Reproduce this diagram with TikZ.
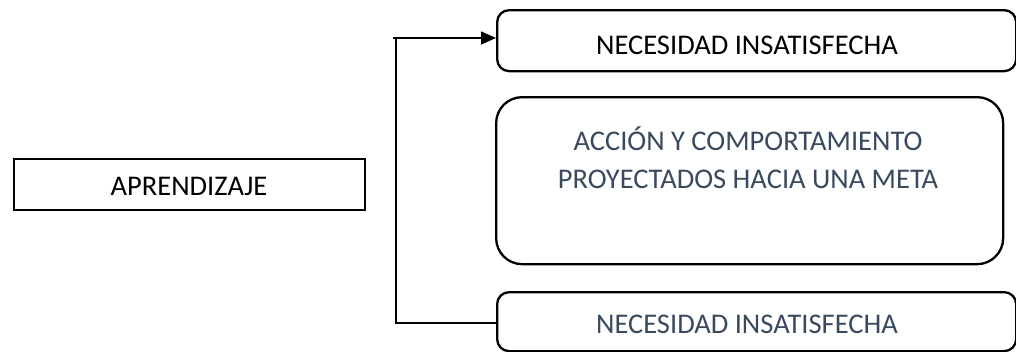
\documentclass[tikz,border=0pt]{standalone}
\usepackage{fontspec}
\setmainfont{Carlito}
\usetikzlibrary{arrows.meta}
\definecolor{slate}{HTML}{3A4A5E}
\begin{document}
\begin{tikzpicture}[x=1pt,y=-1pt,
  rbox/.style={draw, line width=2.3pt, rounded corners=12pt, inner sep=0pt},
  sbox/.style={draw, line width=1.8pt, inner sep=0pt},
  txt/.style={font=\fontsize{28.5}{38}\selectfont, inner sep=0pt},
  conn/.style={line width=1.3pt}]
\useasboundingbox (0,0) rectangle (1016,351);
\node[rbox, minimum width=519pt, minimum height=61pt, anchor=north west] (top) at (496,9) {};
\node[txt] (toptext) at (747,45) {NECESIDAD INSATISFECHA};
\node[rbox, rounded corners=26pt, minimum width=507pt, minimum height=167pt, anchor=north west] (mid) at (495,96) {};
\node[txt, text=slate, align=center] (midtext) at (748,158) {ACCIÓN Y COMPORTAMIENTO\\PROYECTADOS HACIA UNA META};
\node[rbox, minimum width=519pt, minimum height=59pt, anchor=north west] (bot) at (496,291) {};
\node[txt, text=slate] (bottext) at (747,324) {NECESIDAD INSATISFECHA};
\node[sbox, minimum width=351pt, minimum height=51pt, anchor=north west] (apr) at (13,158) {};
\node[txt] (aprtext) at (189,186) {APRENDIZAJE};
\coordinate (c1) at (396,323);
\coordinate (c2) at (396,38);
\draw[conn] (bot.west |- c1) -- (c1) -- (c2) -- ++(-3,0);
\draw[conn, -{Triangle[length=15pt,width=13pt]}] (c2) -- (top.west |- c2);
\end{tikzpicture}
\end{document}
